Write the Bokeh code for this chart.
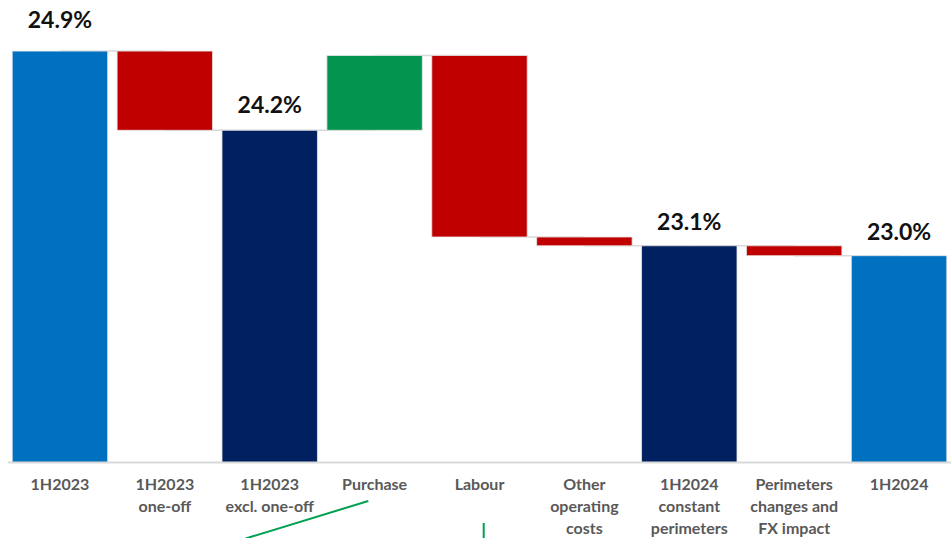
from bokeh.plotting import figure
from bokeh.models import ColumnDataSource, FactorRange, Range1d, Span
from bokeh.core.properties import value
from bokeh.embed import file_html
from bokeh.resources import INLINE

# ---- data ----
categories = ["1H2023", "1H2023 one-off", "1H2023 excl. one-off", "Purchase", "Labour",
              "Other operating costs", "1H2024 constant perimeters",
              "Perimeters changes and FX impact", "1H2024"]
tick_lines = [["1H2023"], ["1H2023", "one-off"], ["1H2023", "excl. one-off"], ["Purchase"],
              ["Labour"], ["Other", "operating", "costs"], ["1H2024", "constant", "perimeters"],
              ["Perimeters", "changes and", "FX impact"], ["1H2024"]]
kinds = ["total", "delta", "total", "delta", "delta", "delta", "total", "delta", "total"]
start_value = 24.9
deltas = [0.0, -0.72, 0.0, 0.68, -1.65, -0.08, 0.0, -0.09, 0.0]

# ---- styles ----
COL_LBLUE = "#0070C0"
COL_NAVY = "#002060"
COL_RED = "#C00000"
COL_GREEN = "#03954F"
total_colors = [COL_LBLUE, None, COL_NAVY, None, None, None, COL_NAVY, None, COL_LBLUE]
label_offsets = [-32, None, -26, None, None, None, -25, None, -25]

Y_TOP = 25.36
Y_BOTTOM = 20.469
BASE = 21.16

# ---- build waterfall ----
tops, bottoms, colors = [], [], []
level = start_value
ends = []
for i, k in enumerate(kinds):
    if k == "total":
        if i == 0:
            level = start_value
        tops.append(level)
        bottoms.append(BASE)
        colors.append(total_colors[i])
    else:
        new = level + deltas[i]
        tops.append(max(level, new))
        bottoms.append(min(level, new))
        colors.append(COL_GREEN if deltas[i] > 0 else COL_RED)
        level = new
    ends.append(level)

src = ColumnDataSource(dict(cat=categories, top=tops, bottom=bottoms, color=colors))

p = figure(width=951, height=538, x_range=FactorRange(*categories, range_padding=0),
           y_range=Range1d(Y_BOTTOM, Y_TOP), output_backend="svg", toolbar_location=None,
           x_axis_location=None, y_axis_location=None,
           min_border_left=7, min_border_right=0, min_border_top=0, min_border_bottom=0)
p.outline_line_color = None
p.xgrid.visible = False
p.ygrid.visible = False
p.background_fill_color = "white"

# baseline axis line
p.add_layout(Span(location=BASE, dimension="width", line_color="#d9d9d9", line_width=2))

# connectors
cx0 = [i + 0.5 for i in range(len(categories) - 1)]
cx1 = [i + 1.5 for i in range(len(categories) - 1)]
p.segment(x0=cx0, y0=ends[:-1], x1=cx1, y1=ends[:-1], line_color="#d9d9d9", line_width=1.5)

p.vbar(x="cat", top="top", bottom="bottom", width=0.91, fill_color="color",
       line_color="#e8e8e8", line_width=0.8, source=src)

# value labels
lx, ly, lt, lo = [], [], [], []
for i, k in enumerate(kinds):
    if k == "total":
        lx.append(categories[i]); ly.append(tops[i])
        lt.append(f"{tops[i]:.1f}%"); lo.append(label_offsets[i])
p.text(x=lx, y=ly, text=lt, y_offset=lo, text_align="center", text_baseline="middle",
       text_font=value("Lato"), text_font_style="bold", text_font_size="23px",
       text_color="#111111")

# category labels
for j in range(3):
    xs = [categories[i] for i in range(len(categories)) if len(tick_lines[i]) > j]
    ts = [tick_lines[i][j] for i in range(len(categories)) if len(tick_lines[i]) > j]
    p.text(x=xs, y=[BASE] * len(xs), text=ts, y_offset=21.5 + 22 * j,
           text_align="center", text_baseline="middle", text_font=value("Lato"),
           text_font_style="bold", text_font_size="16px", text_color="#595959")

# decorative green strokes (cropped slide callouts)
p.segment(x0=[2.27, 4.54], y0=[Y_BOTTOM, Y_BOTTOM], x1=[3.44, 4.54], y1=[20.81, 20.61],
          line_color="#00A050", line_width=2)

open("out.html", "w").write(file_html(p, INLINE))
